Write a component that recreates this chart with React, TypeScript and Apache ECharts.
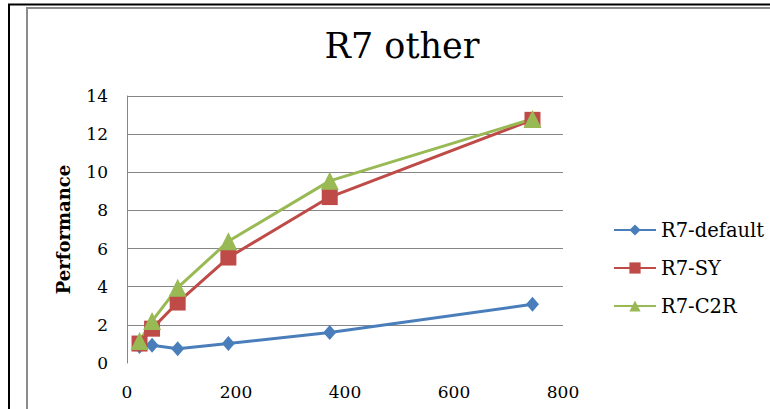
import React, { useEffect, useRef } from "react";
import * as echarts from "echarts";

const xValues = [23, 46, 93, 186, 372, 744];
const defaultValues = [0.87, 0.93, 0.75, 1.02, 1.6, 3.08];
const syValues = [1.02, 1.8, 3.17, 5.53, 8.7, 12.75];
const c2rValues = [1.15, 2.2, 3.95, 6.38, 9.55, 12.8];
const seriesNames = ["R7-default", "R7-SY", "R7-C2R"];
const titleText = "R7 other";
const yAxisName = "Performance";

const FONT = "DejaVu Serif";

export default function App() {
  const ref = useRef<HTMLDivElement>(null);
  useEffect(() => {
    if (!ref.current) return;
    const chart = echarts.init(ref.current, undefined, { renderer: "svg" });
    const pts = (ys: number[]) => xValues.map((x, i) => [x, ys[i]]);
    chart.setOption({
      animation: false,
      backgroundColor: "#ffffff",
      textStyle: { fontFamily: FONT },
      title: {
        text: titleText,
        left: 402,
        textAlign: "center",
        top: 28,
        padding: 0,
        textStyle: { fontFamily: FONT, fontSize: 35, fontWeight: "normal", color: "#000" },
      },
      legend: {
        orient: "vertical",
        left: 613,
        top: 218,
        padding: 0,
        itemWidth: 42,
        itemHeight: 14,
        itemGap: 14,
        data: seriesNames,
        textStyle: { fontFamily: FONT, fontSize: 19.5, color: "#000", lineHeight: 24, fontWeight: "normal" },
      },
      grid: { left: 127, right: 207, top: 96, bottom: 46 },
      xAxis: {
        type: "value",
        min: 0,
        max: 800,
        interval: 200,
        axisLine: { show: false },
        axisTick: { show: false },
        splitLine: { show: false },
        axisLabel: { fontFamily: FONT, fontSize: 17, color: "#000", margin: 20, fontWeight: "normal" },
      },
      yAxis: {
        type: "value",
        min: 0,
        max: 14,
        interval: 2,
        name: yAxisName,
        nameLocation: "middle",
        nameRotate: 90,
        nameGap: 55,
        nameTextStyle: { fontFamily: FONT, fontSize: 18, fontWeight: "bold", color: "#000" },
        axisLine: { show: true, lineStyle: { color: "#868686", width: 1 } },
        axisTick: { show: false },
        splitLine: { show: true, showMinLine: false, lineStyle: { color: "#868686", width: 1 } },
        axisLabel: { fontFamily: FONT, fontSize: 17, color: "#000", margin: 19, fontWeight: "normal" },
      },
      graphic: [
        {
          type: "rect",
          shape: { x: 9, y: 4.5, width: 900, height: 600 },
          style: { fill: "none", stroke: "#000", lineWidth: 2 },
          silent: true,
        },
        {
          type: "rect",
          shape: { x: 27, y: 8, width: 900, height: 600 },
          style: { fill: "none", stroke: "#8c8c8c", lineWidth: 2 },
          silent: true,
        },
      ],
      series: [
        {
          name: seriesNames[0],
          type: "line",
          data: pts(defaultValues),
          symbol: "diamond",
          symbolSize: [13, 15],
          color: "#4a7ebb",
          lineStyle: { width: 3, color: "#4a7ebb" },
          itemStyle: { color: "#4a7ebb" },
        },
        {
          name: seriesNames[1],
          type: "line",
          data: pts(syValues),
          symbol: "rect",
          symbolSize: 16,
          color: "#be4b48",
          lineStyle: { width: 3, color: "#be4b48" },
          itemStyle: { color: "#be4b48" },
        },
        {
          name: seriesNames[2],
          type: "line",
          data: pts(c2rValues),
          symbol: "triangle",
          symbolSize: [18, 18],
          color: "#98b954",
          lineStyle: { width: 3, color: "#98b954" },
          itemStyle: { color: "#98b954" },
        },
      ],
    });
    return () => chart.dispose();
  }, []);
  return (
    <div
      ref={ref}
      style={{ position: "fixed", left: 0, top: 0, width: 770, height: 409 }}
    />
  );
}
